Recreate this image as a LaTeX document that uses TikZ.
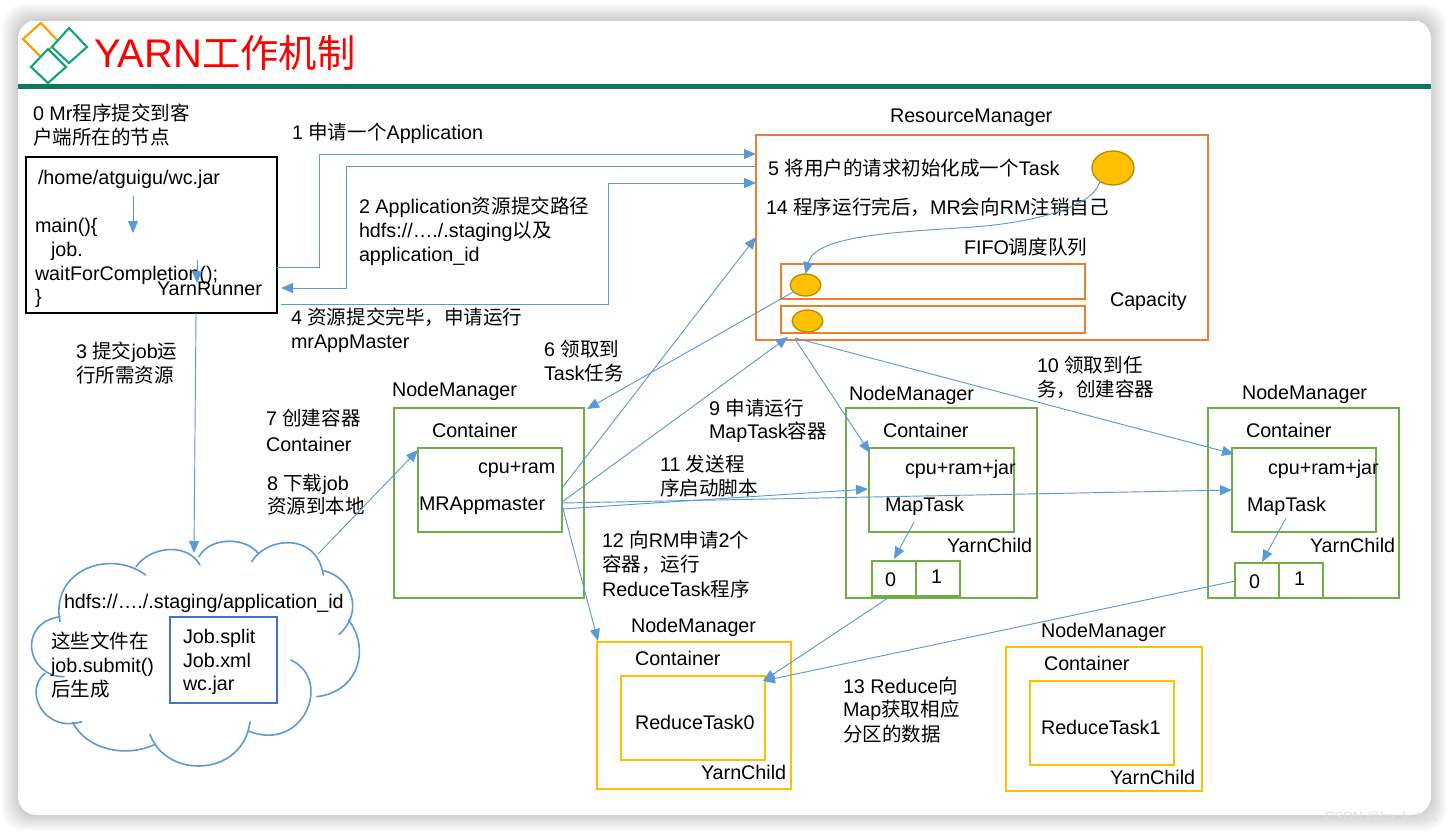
\documentclass[tikz,border=0pt]{standalone}
\usepackage{fontspec}
\setmainfont{Liberation Sans}
\newfontfamily\cjk{Noto Sans CJK SC}[Scale=0.99]
\newcommand\zh[1]{{\cjk #1}}
\usetikzlibrary{arrows.meta,calc,shapes.geometric}
\definecolor{linkblue}{HTML}{5B9BD5}
\definecolor{rmorange}{HTML}{ED7D31}
\definecolor{nmgreen}{HTML}{70AD47}
\definecolor{rtyellow}{HTML}{FFC000}
\definecolor{dotedge}{HTML}{BC8C00}
\definecolor{filesblue}{HTML}{4472C4}
\definecolor{rulegreen}{HTML}{0B7A62}
\definecolor{logoteal}{HTML}{12A585}
\definecolor{logoorange}{HTML}{F5A300}
\tikzset{
  x=0.75pt,y=-0.75pt,
  txt/.style={inner sep=0pt,outer sep=0pt,anchor=base west,align=left,
    font=\fontsize{14.8pt}{18pt}\selectfont},
  frame/.style={draw,line width=1.5pt,inner sep=0pt,outer sep=0pt,anchor=north west,fill=white},
  link/.style={draw=linkblue,line width=0.7pt,-{Triangle[length=9pt,width=7.5pt]}},
  dot/.style={ellipse,draw=dotedge,fill=rtyellow,line width=1pt,inner sep=0pt,outer sep=0pt},
  bump/.style={draw=linkblue,line width=1.2pt,line cap=round},
  logo/.style={line width=1.6pt,fill=white}
}
% rectangle node given by its corners in pixel units
\newcommand\boxat[6]{\node[#2,minimum width={(#5-#3)*0.75pt},minimum height={(#6-#4)*0.75pt}] (#1) at (#3,#4) {};}
\begin{document}
\begin{tikzpicture}
\useasboundingbox (0,0) rectangle (1449,833);
\fill[white] (0,0) rectangle (1449,833);
% soft card shadow
\foreach \i in {16,15,...,1}
  \fill[black,opacity=0.012,rounded corners=16pt] (18-\i,20-\i) rectangle (1431+\i,815+\i);
\fill[white,rounded corners=14pt] (18,20) rectangle (1431,815);
\draw[black!18,line width=0.6pt] (32,20) -- (1417,20);
\fill[rulegreen] (18,84) rectangle (1431,89);

% title
\draw[logo,draw=logoorange] (23,39) -- (41,23) -- (58,41) -- (41,57) -- cycle;
\draw[logo,draw=logoteal] (52,47) -- (69,28) -- (87,47) -- (69,63) -- cycle;
\draw[logo,draw=logoteal] (31,67) -- (48,49) -- (66,67) -- (48,83) -- cycle;
\node[txt,text=red,font=\fontsize{30pt}{34pt}\selectfont] (title) at (94,67) {YARN{\fontsize{29pt}{34pt}\selectfont\cjk 工作机制}};

% client
\boxat{client}{frame,draw=black}{26}{157}{277}{313}
\node[txt] (zero) at (33,144) {0 Mr\zh{程序提交到客}\\\zh{户端所在的节点}};
\node[txt] (jarpath) at (38,184) {/home/atguigu/wc.jar};
\node[txt] (mainfn) at (35,232) {main()\{};
\node[txt] (jobcall) at (51,256) {job.};
\node[txt] (waitcall) at (35,280) {waitForCompletion();};
\node[txt] (closing) at (35,303) {\}};
\node[txt] (runner) at (157,295) {YarnRunner};

% ResourceManager
\node[txt] (rmtitle) at (890,122) {ResourceManager};
\boxat{rm}{frame,draw=rmorange}{756}{135}{1208}{340}
\node[txt] (step5) at (768,175) {5 \zh{将用户的请求初始化成一个}Task};
\node[txt] (step14) at (766,214) {14 \zh{程序运行完后，}MR\zh{会向}RM\zh{注销自己}};
\node[txt] (fifo) at (964,254) {FIFO\zh{调度队列}};
\node[txt] (capacity) at (1110,306) {Capacity};
\boxat{queuea}{frame,draw=rmorange}{781}{264}{1085}{299}
\boxat{queueb}{frame,draw=rmorange}{781}{306}{1085}{333}
\node[dot,minimum width=31.5pt,minimum height=25.5pt] (task) at (1113,168) {};
\node[dot,minimum width=23pt,minimum height=16.5pt] (qa) at (805.5,285) {};
\node[dot,minimum width=23pt,minimum height=16.5pt] (qb) at (807.5,321) {};

% NodeManager running the MRAppmaster
\node[txt] (nmatitle) at (392,396) {NodeManager};
\boxat{nma}{frame,draw=nmgreen}{394}{408}{584}{598}
\node[txt] (conta) at (432,437) {Container};
\boxat{master}{frame,draw=nmgreen}{418}{448}{562}{532}
\node[txt] (cpua) at (478,473) {cpu+ram};
\node[txt] (mastername) at (419,510) {MRAppmaster};

% NodeManager with the first MapTask
\node[txt] (nmbtitle) at (849,400) {NodeManager};
\boxat{nmb}{frame,draw=nmgreen}{846}{408}{1037}{598}
\node[txt] (contb) at (883,437) {Container};
\boxat{mapa}{frame,draw=nmgreen}{869}{448}{1014}{532}
\node[txt] (cpub) at (905,474) {cpu+ram+jar};
\node[txt] (mapaname) at (885,511) {MapTask};
\node[txt] (childb) at (947,552) {YarnChild};
\boxat{cella}{frame,draw=nmgreen}{872}{561}{916}{596}
\boxat{cellb}{frame,draw=nmgreen}{916}{561}{960}{596}
\node[txt] (cellazero) at (885,586) {0};
\node[txt] (cellbone) at (931,583) {1};

% NodeManager with the second MapTask
\node[txt] (nmctitle) at (1242,399) {NodeManager};
\boxat{nmc}{frame,draw=nmgreen}{1208}{408}{1399}{598}
\node[txt] (contc) at (1246,437) {Container};
\boxat{mapb}{frame,draw=nmgreen}{1232}{448}{1376}{532}
\node[txt] (cpuc) at (1268,474) {cpu+ram+jar};
\node[txt] (mapbname) at (1247,511) {MapTask};
\node[txt] (childc) at (1310,552) {YarnChild};
\boxat{cellc}{frame,draw=nmgreen}{1235}{563}{1279}{598}
\boxat{celld}{frame,draw=nmgreen}{1279}{563}{1323}{598}
\node[txt] (cellczero) at (1249,588) {0};
\node[txt] (celldone) at (1294,585) {1};

% NodeManagers with the reduce tasks
\node[txt] (nmdtitle) at (631,632) {NodeManager};
\boxat{nmd}{frame,draw=rtyellow}{597}{642}{791}{789}
\node[txt] (contd) at (635,665) {Container};
\boxat{reda}{frame,draw=rtyellow}{621}{676}{765}{760}
\node[txt] (redaname) at (635,729) {ReduceTask0};
\node[txt] (childd) at (701,779) {YarnChild};
\node[txt] (nmetitle) at (1041,637) {NodeManager};
\boxat{nme}{frame,draw=rtyellow}{1006}{647}{1202}{791}
\node[txt] (conte) at (1044,670) {Container};
\boxat{redb}{frame,draw=rtyellow}{1030}{681}{1174}{765}
\node[txt] (redbname) at (1041,734) {ReduceTask1};
\node[txt] (childe) at (1110,784) {YarnChild};

% HDFS cloud, outlined as overlapping bumps
\begin{scope}[shift={(0,520)},x=0.25pt,y=-0.25pt]
  \draw[bump] (180,305) .. controls (150,150) and (330,85) .. (437,165);
  \draw[bump] (408,140) .. controls (450,80) and (560,65) .. (600,135);
  \draw[bump] (597,110) .. controls (630,50) and (735,50) .. (775,100);
  \draw[bump] (755,125) .. controls (800,50) and (950,35) .. (970,165);
  \draw[bump] (972,152) .. controls (1060,175) and (1090,280) .. (1017,343);
  \draw[bump] (1045,300) .. controls (1110,380) and (1080,515) .. (950,530);
  \draw[bump] (873,420) .. controls (1000,480) and (910,700) .. (745,633);
  \draw[bump] (750,605) .. controls (730,770) and (500,780) .. (450,643);
  \draw[bump] (467,672) .. controls (380,715) and (260,690) .. (218,607);
  \draw[bump] (245,605) .. controls (130,640) and (70,510) .. (135,460);
  \draw[bump] (192,470) .. controls (80,470) and (50,310) .. (180,290);
\end{scope}
\coordinate (cloudtop) at (194,553);
\coordinate (cloudside) at (318,554);
\node[txt] (hdfspath) at (64,608) {hdfs://…./.staging/application\_id};
\node[txt] (generated) at (51,648) {\zh{这些文件在}};
\node[txt] (generatedb) at (51,672) {job.submit()};
\node[txt] (generatedc) at (51,696) {\zh{后生成}};
\boxat{files}{frame,draw=filesblue}{170}{617}{277}{703}
\node[txt] (filea) at (183,643) {Job.split};
\node[txt] (fileb) at (183,667) {Job.xml};
\node[txt] (filec) at (183,690) {wc.jar};

% step labels
\node[txt] (lab1) at (292,139) {1 \zh{申请一个}Application};
\node[txt] (lab2) at (359,213) {2 Application\zh{资源提交路径}};
\node[txt] (lab2b) at (359,237) {hdfs://…./.staging\zh{以及}};
\node[txt] (lab2c) at (359,261) {application\_id};
\node[txt] (lab4) at (291,324) {4 \zh{资源提交完毕，申请运行}};
\node[txt] (lab4b) at (291,348) {mrAppMaster};
\node[txt] (lab3) at (76,358) {3 \zh{提交}job\zh{运}};
\node[txt] (lab3b) at (76,382) {\zh{行所需资源}};
\node[txt] (lab6) at (544,356) {6 \zh{领取到}};
\node[txt] (lab6b) at (544,380) {Task\zh{任务}};
\node[txt] (lab7) at (266,425) {7 \zh{创建容器}};
\node[txt] (lab7b) at (266,451) {Container};
\node[txt] (lab8) at (267,490) {8 \zh{下载}job};
\node[txt] (lab8b) at (267,513) {\zh{资源到本地}};
\node[txt] (lab9) at (709,415) {9 \zh{申请运行}};
\node[txt] (lab9b) at (709,438) {MapTask\zh{容器}};
\node[txt] (lab11) at (660,471) {11 \zh{发送程}};
\node[txt] (lab11b) at (660,495) {\zh{序启动脚本}};
\node[txt] (lab12) at (602,547) {12 \zh{向}RM\zh{申请}2\zh{个}};
\node[txt] (lab12b) at (602,571) {\zh{容器，运行}};
\node[txt] (lab12c) at (602,596) {ReduceTask\zh{程序}};
\node[txt] (lab10) at (1037,372) {10 \zh{领取到任}};
\node[txt] (lab10b) at (1037,396) {\zh{务，创建容器}};
\node[txt] (lab13) at (843,693) {13 Reduce\zh{向}};
\node[txt] (lab13b) at (843,716) {Map\zh{获取相应}};
\node[txt] (lab13c) at (843,741) {\zh{分区的数据}};
\node[txt,text=black!12,font=\fontsize{10pt}{12pt}\selectfont] (mark) at (1325,821) {CSDN @ha\_lydms};

% connectors
\draw[link] (133,196) -- (133,233);
\draw[link] (197,260) -- (197,283);
\draw[link] (client.south -| 196,0) -- (cloudtop);
\draw[link] (client.east |- 0,267) -- (319,267) -- (319,154) -- (rm.west |- 0,154);
\draw[link] (rm.west |- 0,166) -- (346,166) -- (346,288) -- (281,288);
\draw[link] (281,304) -- (608,304) -- (608,183) -- (rm.west |- 0,183);
\draw[link] (master.east |- 0,488) -- (rm.west |- 0,237);
\draw[link] (master.east |- 0,502) -- (788,337);
\draw[link] (qa) -- (587,409);
\draw[link] (master.east |- 0,509) -- (868,489);
\draw[link] (master.east |- 0,503) -- (mapb.west |- 0,490);
\draw[link] (master.east |- 0,505) -- (598,641);
\draw[link] (795,339) -- (870,453);
\draw[link] (795,338) -- (1234,454);
\draw[link] (914,522) -- (894,559);
\draw[link] (1286,518) -- (1262,562);
\draw[link] (888,598) -- (763,681);
\draw[link] (cellc.west |- 0,581) -- (763,681);
\draw[link] (cloudside) -- (418,450);
\draw[link] (task.-135) .. controls (1095,205) and (1040,222) .. (973,227) .. controls (900,232) and (815,235) .. (qa.north);
\end{tikzpicture}
\end{document}
